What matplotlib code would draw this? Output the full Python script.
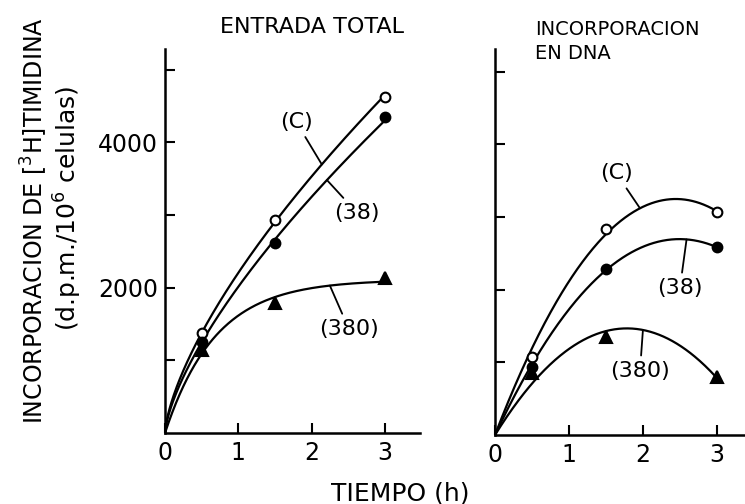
import numpy as np
import matplotlib.pyplot as plt

plt.rcParams['font.family'] = ['DejaVu Sans']
plt.rcParams['mathtext.fontset'] = 'dejavusans'

# sampling times (h)
hours = np.array([0.5, 1.5, 3.0])

# total uptake, d.p.m./10^6 cells
total_c = [1370, 2930, 4620]
total_38 = [1255, 2610, 4350]
total_380 = [1140, 1785, 2130]

# incorporation into DNA, d.p.m./10^6 cells
dna_c = [1070, 2830, 3065]
dna_38 = [940, 2285, 2580]
dna_380 = [850, 1350, 800]

x_ticks = [0, 1, 2, 3]
y_ticks = [1000, 2000, 3000, 4000, 5000]
y_tick_labels = ["", "2000", "", "4000", ""]


def power_fit(x, y):
    # a * t^p, straight line in log-log
    p, log_a = np.polyfit(np.log(x), np.log(y), 1)
    return lambda t: np.exp(log_a) * np.power(t, p)


def saturation_fit(x, y):
    # a * (1 - exp(-k t)), least squares over k
    x = np.asarray(x, float)
    y = np.asarray(y, float)
    best = None
    for k in np.linspace(0.05, 5, 1000):
        f = 1 - np.exp(-k * x)
        a = f @ y / (f @ f)
        err = np.sum((a * f - y) ** 2)
        if best is None or err < best[0]:
            best = (err, a, k)
    _, a, k = best
    return lambda t: a * (1 - np.exp(-k * t))


def quad_fit(x, y):
    # a t + b t^2 through the origin, least squares
    x = np.asarray(x, float)
    m = np.column_stack([x, x ** 2])
    (a, b), *_ = np.linalg.lstsq(m, np.asarray(y, float), rcond=None)
    return lambda t: a * t + b * t ** 2


def style_axes(ax, xmax, ymax, show_ylabels):
    ax.set_xlim(0, xmax)
    ax.set_ylim(0, ymax)
    for side in ("top", "right"):
        ax.spines[side].set_visible(False)
    for side in ("left", "bottom"):
        ax.spines[side].set_linewidth(1.8)
    ax.set_xticks(x_ticks)
    ax.set_yticks(y_ticks)
    if show_ylabels:
        ax.set_yticklabels(y_tick_labels)
    else:
        ax.set_yticklabels([])
    ax.tick_params(direction="in", length=7, width=1.5, labelsize=17)
    ax.tick_params(axis="x", pad=6)
    ax.tick_params(axis="y", pad=5)


def draw_series(ax, fit, y, marker, face, size):
    t = np.linspace(0, 3, 300)
    ax.plot(t, fit(t), color="black", lw=1.6, zorder=2)
    ax.plot(hours, y, linestyle="none", marker=marker, ms=size,
            mfc=face, mec="black", mew=1.5, zorder=3)


def label_curve(ax, fit, text, x_end, xy_text):
    ax.annotate(text, xy=(x_end, fit(x_end)), xytext=xy_text,
                ha="center", va="center", fontsize=16,
                arrowprops=dict(arrowstyle="-", lw=1.3, color="black",
                                shrinkA=2, shrinkB=0))


fig = plt.figure(figsize=(7.45, 5.04), dpi=100)
ax1 = fig.add_axes([165 / 745, 71 / 504, 255 / 745, 384 / 504])
ax2 = fig.add_axes([495 / 745, 69 / 504, 250 / 745, 386 / 504])

style_axes(ax1, 3.48, 5282, True)
style_axes(ax2, 3.38, 5310, False)

fit_tc = power_fit(hours, total_c)
fit_t38 = power_fit(hours, total_38)
fit_t380 = saturation_fit(hours, total_380)
draw_series(ax1, fit_tc, total_c, "o", "white", 7)
draw_series(ax1, fit_t38, total_38, "o", "black", 7)
draw_series(ax1, fit_t380, total_380, "^", "black", 8)
label_curve(ax1, fit_tc, "(C)", 2.14, (1.79, 4280))
label_curve(ax1, fit_t38, "(38)", 2.21, (2.62, 3030))
label_curve(ax1, fit_t380, "(380)", 2.25, (2.51, 1430))

fit_dc = quad_fit(hours, dna_c)
fit_d38 = quad_fit(hours, dna_38)
fit_d380 = quad_fit(hours, dna_380)
draw_series(ax2, fit_dc, dna_c, "o", "white", 7)
draw_series(ax2, fit_d38, dna_38, "o", "black", 7)
draw_series(ax2, fit_d380, dna_380, "^", "black", 8)
label_curve(ax2, fit_dc, "(C)", 1.96, (1.64, 3600))
label_curve(ax2, fit_d38, "(38)", 2.59, (2.50, 2020))
label_curve(ax2, fit_d380, "(380)", 2.00, (1.96, 880))

fig.text(312 / 745, 1 - 33 / 504, "ENTRADA TOTAL", fontsize=16,
         ha="center", va="baseline")
fig.text(535 / 745, 1 - 35 / 504, "INCORPORACION", fontsize=14,
         ha="left", va="baseline")
fig.text(535 / 745, 1 - 59 / 504, "EN DNA", fontsize=14,
         ha="left", va="baseline")

# two-line y label, written as separate rotated lines
fig.text(44 / 745, 1 - 221 / 504,
         r"INCORPORACION DE $\left[{}^{3}\mathrm{H}\right]$TIMIDINA",
         fontsize=17, rotation=90, rotation_mode="anchor",
         ha="center", va="baseline")
fig.text(77 / 745, 1 - 208 / 504, r"(d.p.m./10$^{6}$ celulas)",
         fontsize=18, rotation=90, rotation_mode="anchor",
         ha="center", va="baseline")
fig.text(400 / 745, 1 - 500 / 504, "TIEMPO (h)", fontsize=18,
         ha="center", va="baseline")

fig.savefig("out.png", dpi=100)
